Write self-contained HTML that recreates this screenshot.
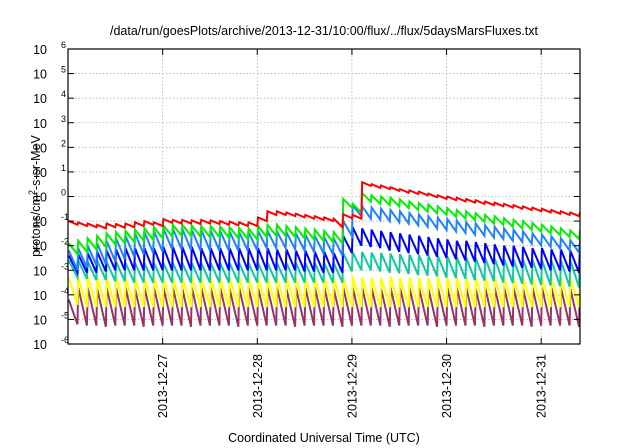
<!DOCTYPE html>
<html><head><meta charset="utf-8">
<style>
html,body{margin:0;padding:0;background:#fff;}
svg{display:block;font-family:"Liberation Sans",sans-serif;}
</style></head>
<body>
<svg id="chart" width="640" height="448" viewBox="0 0 640 448" xmlns="http://www.w3.org/2000/svg">
<rect width="640" height="448" fill="#fff"/>
<text x="324" y="35" font-size="12.5" text-anchor="middle" fill="#000">/data/run/goesPlots/archive/2013-12-31/10:00/flux/../flux/5daysMarsFluxes.txt</text>
<text transform="translate(40,196) rotate(-90)" font-size="12.5" text-anchor="middle" fill="#000">protons/cm<tspan dy="-5" font-size="9">2</tspan><tspan dy="5">-s-sr-MeV</tspan></text>
<text x="324" y="442" font-size="12.5" text-anchor="middle" fill="#000">Coordinated Universal Time (UTC)</text>
<g id="grid"></g>
<defs><clipPath id="clip"><rect x="68" y="49" width="512" height="295"/></clipPath></defs>
<g id="series" clip-path="url(#clip)"></g>
<rect x="68" y="49" width="512" height="295" fill="none" stroke="#000" stroke-width="1.2"/>
<g id="axes"></g>
</svg>
<script>
const dateTicks = ["2013-12-27","2013-12-28","2013-12-29","2013-12-30","2013-12-31"];
const dateTickDays = [1,2,3,4,5];
const decadeTicks = [-6,-5,-4,-3,-2,-1,0,1,2,3,4,5,6];
const cyclePeriodDays = 0.1;
const seriesNames = ["red","green","lightblue","blue","teal","yellow","purple"];
const seriesColors = ["#ff0000","#00f000","#1e82ff","#0000ff","#10c8a0","#ffff00","#993366"];
const redPeaks = [-1.0,-1.05,-1.1,-1.15,-1.1,-1.12,-1.1,-1.05,-1.0,-1.05,-0.92,-0.95,-0.95,-0.97,-0.95,-0.97,-1.0,-1.02,-1.05,-1.05,-0.85,-0.6,-0.6,-0.65,-0.7,-0.75,-0.8,-0.85,-0.9,-0.72,-0.75,0.58,0.5,0.45,0.38,0.3,0.25,0.2,0.12,0.05,0,-0.05,-0.1,-0.15,-0.2,-0.25,-0.3,-0.35,-0.4,-0.45,-0.5,-0.55,-0.6,-0.65,-0.68];
const redTroughs = [-1.15,-1.2,-1.25,-1.3,-1.25,-1.27,-1.25,-1.2,-1.15,-1.2,-1.07,-1.1,-1.1,-1.12,-1.1,-1.12,-1.15,-1.17,-1.2,-1.2,-1.0,-0.75,-0.75,-0.8,-0.85,-0.9,-0.95,-1.0,-1.25,-0.88,-0.9,0.43,0.35,0.3,0.23,0.15,0.1,0.05,-0.03,-0.1,-0.15,-0.2,-0.25,-0.3,-0.35,-0.4,-0.45,-0.5,-0.55,-0.6,-0.65,-0.7,-0.75,-0.8,-0.83];
const greenPeaks = [-1.9,-1.8,-1.7,-1.6,-1.5,-1.45,-1.4,-1.35,-1.3,-1.25,-1.17,-1.15,-1.15,-1.18,-1.2,-1.2,-1.22,-1.25,-1.28,-1.3,-1.2,-1.15,-1.15,-1.2,-1.25,-1.3,-1.35,-1.4,-1.45,-0.1,-0.3,0.14,0.05,0,-0.05,-0.12,-0.2,-0.27,-0.33,-0.4,-0.47,-0.55,-0.6,-0.68,-0.75,-0.8,-0.88,-0.95,-1.0,-1.08,-1.15,-1.22,-1.3,-1.38,-1.45];
const greenTroughs = [-2.35,-2.25,-2.15,-2.05,-1.95,-1.9,-1.85,-1.8,-1.75,-1.7,-1.62,-1.6,-1.6,-1.63,-1.65,-1.65,-1.67,-1.7,-1.73,-1.75,-1.65,-1.6,-1.6,-1.65,-1.7,-1.75,-1.8,-1.85,-1.9,-0.45,-0.65,-0.21,-0.3,-0.35,-0.4,-0.47,-0.55,-0.62,-0.68,-0.75,-0.82,-0.9,-0.95,-1.03,-1.1,-1.15,-1.23,-1.3,-1.35,-1.43,-1.5,-1.57,-1.65,-1.73,-1.8];
const lightbluePeaks = [-2.2,-2.1,-2.0,-1.9,-1.8,-1.7,-1.6,-1.5,-1.45,-1.4,-1.3,-1.3,-1.32,-1.35,-1.35,-1.38,-1.4,-1.42,-1.45,-1.45,-1.4,-1.4,-1.42,-1.45,-1.5,-1.55,-1.6,-1.65,-1.7,-1.0,-0.36,-0.4,-0.45,-0.5,-0.55,-0.6,-0.67,-0.73,-0.8,-0.86,-0.92,-0.98,-1.05,-1.1,-1.17,-1.23,-1.3,-1.35,-1.42,-1.5,-1.55,-1.62,-1.7,-1.78,-1.85];
const lightblueTroughs = [-3.0,-2.9,-2.8,-2.75,-2.65,-2.55,-2.45,-2.35,-2.3,-2.25,-2.15,-2.15,-2.17,-2.2,-2.2,-2.2,-2.2,-2.2,-2.2,-2.2,-2.1,-2.1,-2.1,-2.15,-2.2,-2.25,-2.3,-2.35,-2.4,-1.6,-0.8,-0.9,-0.95,-1.0,-1.05,-1.1,-1.17,-1.23,-1.3,-1.36,-1.42,-1.48,-1.55,-1.6,-1.67,-1.73,-1.8,-1.85,-1.92,-2.0,-2.05,-2.12,-2.2,-2.28,-2.35];
const bluePeaks = [-2.4,-2.35,-2.3,-2.25,-2.2,-2.15,-2.1,-2.1,-2.1,-2.1,-2.05,-2.05,-2.05,-2.05,-2.1,-2.1,-2.1,-2.1,-2.1,-2.1,-2.1,-2.1,-2.15,-2.15,-2.2,-2.2,-2.25,-2.25,-2.3,-1.6,-1.25,-1.3,-1.35,-1.4,-1.45,-1.5,-1.55,-1.6,-1.65,-1.7,-1.75,-1.8,-1.8,-1.85,-1.9,-1.95,-2.0,-2.0,-2.05,-2.1,-2.1,-2.15,-2.15,-2.2,-2.2];
const blueTroughs = [-3.1,-3.1,-3.1,-3.05,-3.0,-3.0,-3.0,-3.0,-3.0,-3.0,-3.0,-3.0,-3.0,-3.0,-3.0,-3.0,-3.0,-3.0,-3.0,-3.0,-3.0,-3.0,-3.0,-3.0,-3.05,-3.05,-3.1,-3.1,-3.1,-2.3,-2.0,-2.05,-2.1,-2.2,-2.25,-2.3,-2.35,-2.4,-2.45,-2.5,-2.55,-2.6,-2.65,-2.7,-2.75,-2.8,-2.85,-2.9,-2.9,-2.95,-3.0,-3.0,-3.05,-3.1,-3.1];
const tealPeaks = [-2.6,-2.6,-2.65,-2.6,-2.65,-2.65,-2.7,-2.7,-2.7,-2.7,-2.7,-2.7,-2.7,-2.7,-2.7,-2.7,-2.7,-2.7,-2.7,-2.7,-2.7,-2.7,-2.7,-2.7,-2.7,-2.7,-2.7,-2.7,-2.7,-2.3,-2.26,-2.26,-2.28,-2.3,-2.32,-2.34,-2.36,-2.38,-2.4,-2.42,-2.44,-2.46,-2.48,-2.5,-2.5,-2.52,-2.54,-2.55,-2.56,-2.57,-2.58,-2.59,-2.6,-2.6,-2.6];
const tealTroughs = [-3.3,-3.35,-3.4,-3.4,-3.45,-3.45,-3.5,-3.5,-3.5,-3.5,-3.5,-3.5,-3.5,-3.5,-3.5,-3.5,-3.5,-3.5,-3.5,-3.5,-3.5,-3.5,-3.5,-3.5,-3.5,-3.5,-3.5,-3.5,-3.5,-3.05,-3.0,-3.0,-3.05,-3.1,-3.12,-3.15,-3.2,-3.22,-3.25,-3.3,-3.32,-3.35,-3.4,-3.42,-3.45,-3.5,-3.52,-3.55,-3.58,-3.6,-3.62,-3.65,-3.67,-3.7,-3.7];
const yellowPeaks = [-3.3,-3.3,-3.25,-3.3,-3.3,-3.25,-3.3,-3.3,-3.3,-3.25,-3.3,-3.3,-3.3,-3.25,-3.3,-3.3,-3.3,-3.3,-3.25,-3.3,-3.3,-3.3,-3.3,-3.25,-3.3,-3.3,-3.3,-3.3,-3.3,-3.3,-3.25,-3.3,-3.3,-3.3,-3.25,-3.3,-3.3,-3.3,-3.3,-3.25,-3.3,-3.3,-3.3,-3.3,-3.25,-3.3,-3.3,-3.3,-3.3,-3.25,-3.3,-3.3,-3.3,-3.3,-3.3];
const yellowTroughs = [-4.4,-4.5,-4.5,-4.5,-4.5,-4.5,-4.5,-4.5,-4.5,-4.5,-4.5,-4.5,-4.5,-4.5,-4.5,-4.5,-4.5,-4.5,-4.5,-4.5,-4.5,-4.5,-4.5,-4.5,-4.5,-4.5,-4.5,-4.5,-4.5,-4.5,-4.5,-4.5,-4.5,-4.5,-4.5,-4.5,-4.5,-4.5,-4.5,-4.5,-4.5,-4.5,-4.5,-4.5,-4.5,-4.5,-4.5,-4.5,-4.5,-4.5,-4.5,-4.5,-4.5,-4.5,-4.5];
const purplePeaks = [-4.2,-3.7,-3.7,-3.75,-3.7,-3.7,-3.7,-3.75,-3.7,-3.7,-3.7,-3.7,-3.75,-3.7,-3.7,-3.7,-3.7,-3.75,-3.7,-3.7,-3.7,-3.7,-3.7,-3.75,-3.7,-3.7,-3.7,-3.7,-3.75,-3.7,-3.7,-3.7,-3.7,-3.75,-3.7,-3.7,-3.7,-3.7,-3.75,-3.7,-3.7,-3.7,-3.7,-3.75,-3.7,-3.7,-3.7,-3.7,-3.75,-3.7,-3.7,-3.7,-3.7,-3.75,-3.7];
const purpleTroughs = [-5.2,-5.25,-5.25,-5.3,-5.25,-5.25,-5.25,-5.3,-5.25,-5.25,-5.25,-5.25,-5.3,-5.25,-5.25,-5.25,-5.25,-5.3,-5.25,-5.25,-5.25,-5.25,-5.25,-5.3,-5.25,-5.25,-5.25,-5.25,-5.3,-5.25,-5.25,-5.25,-5.25,-5.3,-5.25,-5.25,-5.25,-5.25,-5.3,-5.25,-5.25,-5.25,-5.25,-5.3,-5.25,-5.25,-5.25,-5.25,-5.3,-5.25,-5.25,-5.25,-5.25,-5.3,-5.25];
const peaksBySeries = [redPeaks,greenPeaks,lightbluePeaks,bluePeaks,tealPeaks,yellowPeaks,purplePeaks];
const troughsBySeries = [redTroughs,greenTroughs,lightblueTroughs,blueTroughs,tealTroughs,yellowTroughs,purpleTroughs];

const NS = "http://www.w3.org/2000/svg";
const X0 = 68, X1 = 580, Y0 = 49, Y1 = 344;
const dayMin = 0, dayMax = 5.41;
const logMin = -6, logMax = 6;
function xScale(d){ return X0 + (d - dayMin) / (dayMax - dayMin) * (X1 - X0); }
function yScale(lg){ return Y1 - (lg - logMin) / (logMax - logMin) * (Y1 - Y0); }
function mk(tag, attrs, parent){ const e = document.createElementNS(NS, tag); for (const k in attrs) e.setAttribute(k, attrs[k]); parent.appendChild(e); return e; }

const grid = document.getElementById('grid');
const axes = document.getElementById('axes');
decadeTicks.forEach(function(p){
  const y = yScale(p);
  if (p > logMin && p < logMax) {
    const g = mk('line', {x1:X0, x2:X1, y1:y, y2:y, stroke:'#b0b0b0', 'stroke-width':0.8, 'stroke-dasharray':'1.5,2'}, grid);
    
    
  }
  const t1 = mk('line', {x1:X0, x2:X0+6, y1:y, y2:y, stroke:'#000', 'stroke-width':1}, axes);
  
  
  const t2 = mk('line', {x1:X1-6, x2:X1, y1:y, y2:y, stroke:'#000', 'stroke-width':1}, axes);
  
  
  const lbl = mk('text', {x:60, y:y+5, 'font-size':12.5, 'text-anchor':'end', fill:'#000'}, axes);
  
  
  lbl.appendChild(document.createTextNode('10'));
  const sup = mk('tspan', {x:61, dy:-6, 'font-size':9, 'text-anchor':'start'}, lbl);
  sup.textContent = String(p);
  lbl.setAttribute('x', 47);
});
dateTickDays.forEach(function(d, i){
  const x = xScale(d);
  const g = mk('line', {x1:x, x2:x, y1:Y0, y2:Y1, stroke:'#b0b0b0', 'stroke-width':0.8, 'stroke-dasharray':'1.5,2'}, grid);
  
  
  const t1 = mk('line', {x1:x, x2:x, y1:Y1-6, y2:Y1, stroke:'#000', 'stroke-width':1}, axes);
  
  
  const t2 = mk('line', {x1:x, x2:x, y1:Y0, y2:Y0+6, stroke:'#000', 'stroke-width':1}, axes);
  
  
  const lbl = mk('text', {transform:'translate('+(x+4.5)+',354) rotate(-90)', 'font-size':12.5, 'text-anchor':'end', fill:'#000'}, axes);
  
  
  lbl.textContent = dateTicks[i];
});

const seriesG = document.getElementById('series');
seriesNames.slice().reverse().forEach(function(name){
  const si = seriesNames.indexOf(name);
  const P = peaksBySeries[si], T = troughsBySeries[si];
  let d = '';
  for (let k = 0; k < P.length; k++) {
    const tStart = k * cyclePeriodDays;
    const tEnd = (k + 1) * cyclePeriodDays;
    d += (k === 0 ? 'M' : 'L') + xScale(tStart + 0.008).toFixed(2) + ',' + yScale(P[k]).toFixed(2);
    d += 'L' + xScale(tEnd).toFixed(2) + ',' + yScale(T[k]).toFixed(2);
  }
  const path = mk('path', {d:d, fill:'none', stroke:seriesColors[si], 'stroke-width':2, 'stroke-linejoin':'miter'}, seriesG);
  
  
});
</script>
</body></html>
